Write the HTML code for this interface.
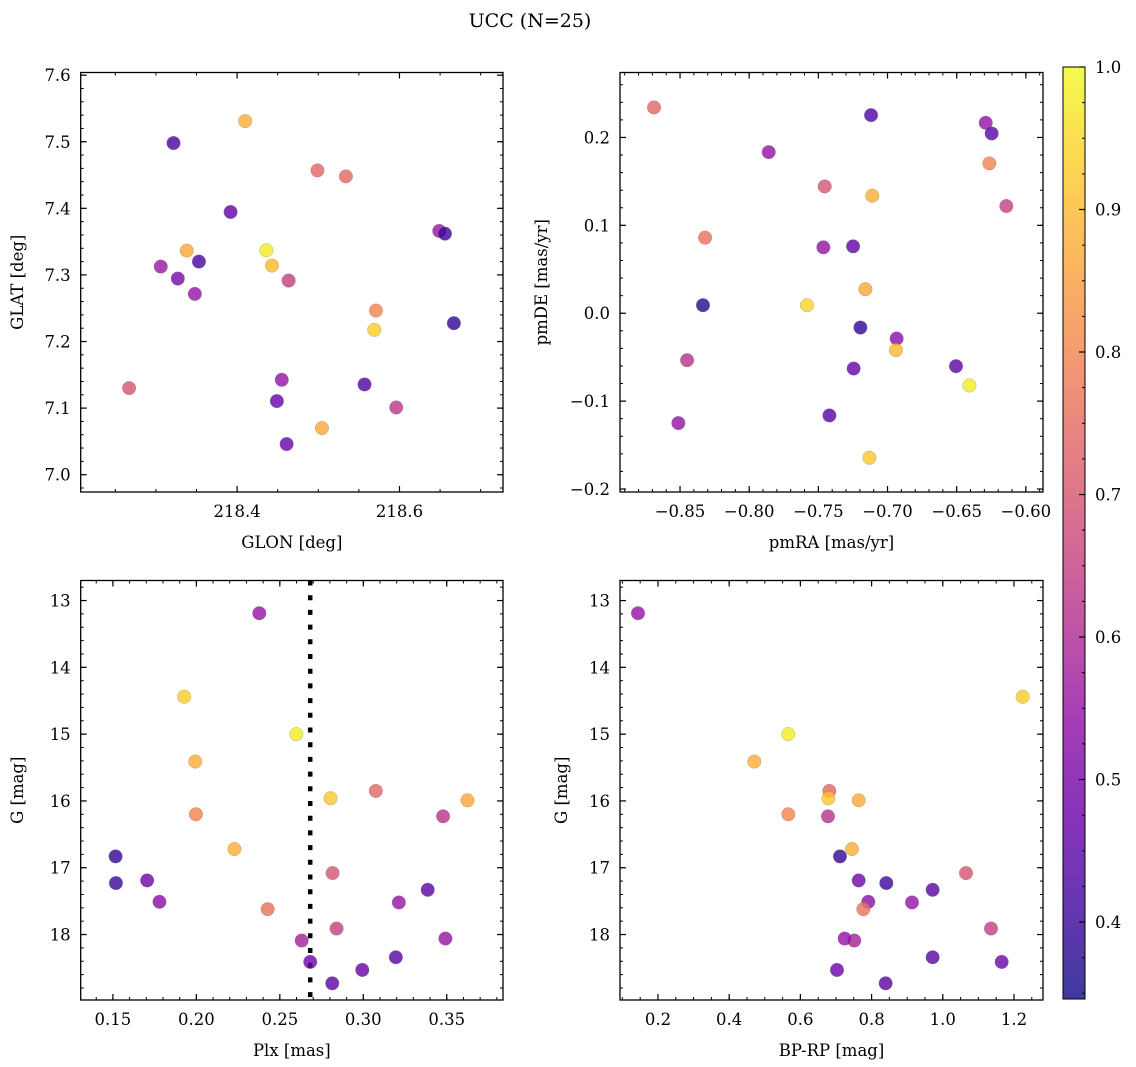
<!DOCTYPE html>
<html><head><meta charset="utf-8"><style>
body{margin:0;background:#fff;}
svg{display:block;font-family:"DejaVu Serif","Liberation Serif",serif;}
</style></head><body>
<svg id="fig" width="1136" height="1067" viewBox="0 0 1136 1067" xmlns="http://www.w3.org/2000/svg">
<text x="530" y="27" font-size="19" text-anchor="middle">UCC (N=25)</text>
</svg>
<script>
// Panel 1: GLON vs GLAT
const glon = [218.3217,218.410,218.499,218.534,218.392,218.649,218.656,218.338,218.436,218.353,218.306,218.443,218.327,218.4635,218.348,218.571,218.569,218.667,218.267,218.455,218.557,218.449,218.596,218.5045,218.461];
const glat = [7.498,7.531,7.457,7.448,7.3945,7.366,7.362,7.3365,7.337,7.320,7.3125,7.314,7.2945,7.2915,7.2715,7.2465,7.2175,7.2275,7.13,7.1425,7.1355,7.1105,7.101,7.07,7.046];
const probA = [0.42,0.88,0.74,0.74,0.46,0.55,0.40,0.87,0.98,0.42,0.56,0.90,0.50,0.65,0.55,0.80,0.93,0.39,0.70,0.55,0.43,0.47,0.63,0.87,0.47];
// Panel 2: pmRA vs pmDE
const pmra = [-0.8688,-0.7119,-0.6290,-0.6247,-0.7859,-0.6264,-0.7454,-0.7110,-0.6141,-0.8319,-0.7464,-0.7249,-0.7160,-0.8334,-0.7582,-0.7196,-0.6934,-0.6939,-0.7245,-0.6505,-0.8449,-0.6408,-0.7420,-0.8512,-0.7131];
const pmde = [0.2341,0.2254,0.2167,0.2045,0.1833,0.1705,0.1443,0.1337,0.1220,0.0860,0.0750,0.0761,0.0273,0.0091,0.0091,-0.0163,-0.0288,-0.0420,-0.0629,-0.0602,-0.0534,-0.0822,-0.1163,-0.1250,-0.1644];
const probB = [0.74,0.43,0.55,0.45,0.55,0.80,0.70,0.88,0.65,0.76,0.55,0.46,0.87,0.38,0.94,0.39,0.53,0.90,0.47,0.45,0.62,0.98,0.44,0.55,0.92];
// Panels 3/4: Plx, G, BP-RP
const plx = [0.2377,0.1927,0.2599,0.1993,0.3075,0.2804,0.3624,0.1997,0.3478,0.2228,0.1516,0.2816,0.1518,0.1705,0.3386,0.1779,0.3213,0.2427,0.2840,0.2631,0.3492,0.2682,0.3195,0.2994,0.2814];
const gmag = [13.19,14.44,15.00,15.41,15.85,15.96,15.99,16.20,16.23,16.72,16.83,17.08,17.23,17.19,17.33,17.51,17.52,17.62,17.91,18.09,18.06,18.41,18.34,18.53,18.73];
const bprp = [0.1438,1.2243,0.5661,0.4706,0.6813,0.6785,0.7637,0.5661,0.6775,0.7449,0.7112,1.0652,0.8414,0.7637,0.9715,0.7908,0.9135,0.7768,1.1354,0.7515,0.7243,1.1654,0.9715,0.7028,0.8395];
const probC = [0.55,0.93,0.98,0.88,0.74,0.92,0.87,0.80,0.62,0.88,0.39,0.70,0.40,0.48,0.45,0.53,0.55,0.76,0.65,0.58,0.55,0.48,0.44,0.47,0.45];
const plxLine = [0.2682];
const cbTicks = [0.4,0.5,0.6,0.7,0.8,0.9,1.0];
const cmin = 0.346, cmax = 1.0;

const NS = "http://www.w3.org/2000/svg";
const svg = document.getElementById('fig');
const FS = 16.5;
function mk(tag, attrs, parent){
  const e = document.createElementNS(NS, tag);
  for (const k in attrs) e.setAttribute(k, attrs[k]);
  (parent||svg).appendChild(e);
  return e;
}
const plasma = [[13,8,135],[65,4,157],[106,0,168],[143,13,164],[177,42,144],[204,71,120],[225,100,98],[242,132,75],[252,166,54],[252,206,37],[240,249,33]];
function cmap(v){
  let t = (v - cmin)/(cmax - cmin); t = Math.max(0, Math.min(1, t));
  const f = t*10, i = Math.min(9, Math.floor(f)), r = f - i;
  const a = plasma[i], b = plasma[i+1];
  return 'rgb(' + [0,1,2].map(k => Math.round(a[k] + (b[k]-a[k])*r)).join(',') + ')';
}
function fmt(v, d){ const s = v.toFixed(d); return s.startsWith('-') ? '\u2212' + s.slice(1) : s; }

function panel(p){
  const g = mk('g', {});
  
  
  const sx = v => p.x0 + (v - p.xr[0])/(p.xr[1]-p.xr[0])*(p.x1-p.x0);
  const sy = p.inv ? (v => p.y0 + (v - p.yr[0])/(p.yr[1]-p.yr[0])*(p.y1-p.y0))
                   : (v => p.y1 - (v - p.yr[0])/(p.yr[1]-p.yr[0])*(p.y1-p.y0));
  const eps = 1e-9;
  function ticksAlong(r, step){ const out=[]; let s=Math.ceil((r[0]-eps)/step); for(let k=s; k*step<=r[1]+eps; k++) out.push(k*step); return out; }
  ticksAlong(p.xr, p.xminor).forEach(v => {
    const x = sx(v);
    const l1 = mk('line', {x1:x,y1:p.y1,x2:x,y2:p.y1-3,stroke:'#000','stroke-width':1}, g);
     
    const l2 = mk('line', {x1:x,y1:p.y0,x2:x,y2:p.y0+3,stroke:'#000','stroke-width':1}, g);
     
  });
  ticksAlong(p.yr, p.yminor).forEach(v => {
    const y = sy(v);
    const l1 = mk('line', {x1:p.x0,y1:y,x2:p.x0+3,y2:y,stroke:'#000','stroke-width':1}, g);
     
    const l2 = mk('line', {x1:p.x1,y1:y,x2:p.x1-3,y2:y,stroke:'#000','stroke-width':1}, g);
     
  });
  p.xticks.forEach(v => {
    const x = sx(v);
    const l1 = mk('line', {x1:x,y1:p.y1,x2:x,y2:p.y1-6,stroke:'#000','stroke-width':1.2}, g);
     
    const l2 = mk('line', {x1:x,y1:p.y0,x2:x,y2:p.y0+6,stroke:'#000','stroke-width':1.2}, g);
     
    const t = mk('text', {x:x,y:p.y1+25,'font-size':FS,'text-anchor':'middle'}, g);
    t.textContent = fmt(v, p.xdec);
     
  });
  p.yticks.forEach(v => {
    const y = sy(v);
    const l1 = mk('line', {x1:p.x0,y1:y,x2:p.x0+6,y2:y,stroke:'#000','stroke-width':1.2}, g);
     
    const l2 = mk('line', {x1:p.x1,y1:y,x2:p.x1-6,y2:y,stroke:'#000','stroke-width':1.2}, g);
     
    const t = mk('text', {x:p.x0-10,y:y+6,'font-size':FS,'text-anchor':'end'}, g);
    t.textContent = fmt(v, p.ydec);
     
  });
  if (p.vline){
    p.vline.forEach(v => {
      const l = mk('line', {x1:sx(v),y1:p.y0,x2:sx(v),y2:p.y1,stroke:'#000','stroke-width':4.5,'stroke-dasharray':'5 9.7'}, g);
       
    });
  }
  for (let i=0;i<p.xs.length;i++){
    const c = mk('circle', {cx:sx(p.xs[i]),cy:sy(p.ys[i]),r:6.8,fill:cmap(p.cs[i]),'fill-opacity':0.8,stroke:'#777','stroke-opacity':0.5,'stroke-width':0.5}, g);
     
  }
  const fr = mk('rect', {x:p.x0,y:p.y0,width:p.x1-p.x0,height:p.y1-p.y0,fill:'none',stroke:'#000','stroke-width':1.3}, g);
   
  const xl = mk('text', {x:(p.x0+p.x1)/2,y:p.y1+56,'font-size':FS,'text-anchor':'middle'}, g);
  xl.textContent = p.xlabel;
   
  const yx = p.ylx, yy = (p.y0+p.y1)/2;
  const yl = mk('text', {x:yx,y:yy,'font-size':FS,'text-anchor':'middle',transform:'rotate(-90 '+yx+' '+yy+')'}, g);
  yl.textContent = p.ylabel;
   
}

panel({name:'glon-glat-panel',x0:80.7,x1:503,y0:72.5,y1:492,xr:[218.2074,218.7275],yr:[6.974,7.604],inv:false,
  xticks:[218.4,218.6],yticks:[7.0,7.1,7.2,7.3,7.4,7.5,7.6],xminor:0.05,yminor:0.02,xdec:1,ydec:1,
  xs:glon,ys:glat,cs:probA,xlabel:'GLON [deg]',ylabel:'GLAT [deg]',ylx:23});
panel({name:'pm-panel',x0:620,x1:1043,y0:72.5,y1:492,xr:[-0.8934,-0.5876],yr:[-0.2034,0.2739],inv:false,
  xticks:[-0.85,-0.80,-0.75,-0.70,-0.65,-0.60],yticks:[-0.2,-0.1,0.0,0.1,0.2],xminor:0.01,yminor:0.02,xdec:2,ydec:1,
  xs:pmra,ys:pmde,cs:probB,xlabel:'pmRA [mas/yr]',ylabel:'pmDE [mas/yr]',ylx:547});
panel({name:'plx-g-panel',x0:80.7,x1:503,y0:580.5,y1:1000,xr:[0.1307,0.3837],yr:[12.70,18.98],inv:true,
  xticks:[0.15,0.20,0.25,0.30,0.35],yticks:[13,14,15,16,17,18],xminor:0.01,yminor:0.2,xdec:2,ydec:0,
  xs:plx,ys:gmag,cs:probC,xlabel:'Plx [mas]',ylabel:'G [mag]',ylx:23,vline:plxLine});
panel({name:'cmd-panel',x0:620,x1:1043,y0:580.5,y1:1000,xr:[0.0933,1.2815],yr:[12.70,18.98],inv:true,
  xticks:[0.2,0.4,0.6,0.8,1.0,1.2],yticks:[13,14,15,16,17,18],xminor:0.05,yminor:0.2,xdec:1,ydec:0,
  xs:bprp,ys:gmag,cs:probC,xlabel:'BP-RP [mag]',ylabel:'G [mag]',ylx:567});

// Colorbar
(function(){
  const bx0=1063, bx1=1085, by0=67, by1=999;
  const defs = mk('defs', {});
  const lg = mk('linearGradient', {id:'plasmaGrad',x1:0,y1:1,x2:0,y2:0}, defs);
  for (let k=0;k<=20;k++){
    const v = cmin + (cmax-cmin)*k/20;
    mk('stop', {offset:(k/20), 'stop-color':cmap(v), 'stop-opacity':0.8}, lg);
  }
  const g = mk('g', {});
   
  const r = mk('rect', {x:bx0,y:by0,width:bx1-bx0,height:by1-by0,fill:'url(#plasmaGrad)',stroke:'#000','stroke-width':1}, g);
   
  const sy = v => by1 - (v-cmin)/(cmax-cmin)*(by1-by0);
  for (let k=Math.ceil(cmin/0.025); k*0.025<=cmax+1e-9; k++){
    const y = sy(k*0.025);
    const l = mk('line', {x1:bx1,y1:y,x2:bx1-3,y2:y,stroke:'#000','stroke-width':1}, g);
     
  }
  cbTicks.forEach(v => {
    const y = sy(v);
    const l = mk('line', {x1:bx1,y1:y,x2:bx1-6,y2:y,stroke:'#000','stroke-width':1.2}, g);
     
    const t = mk('text', {x:bx1+10,y:y+6,'font-size':FS}, g);
    t.textContent = v.toFixed(1);
     
  });
})();
</script>
</body></html>
